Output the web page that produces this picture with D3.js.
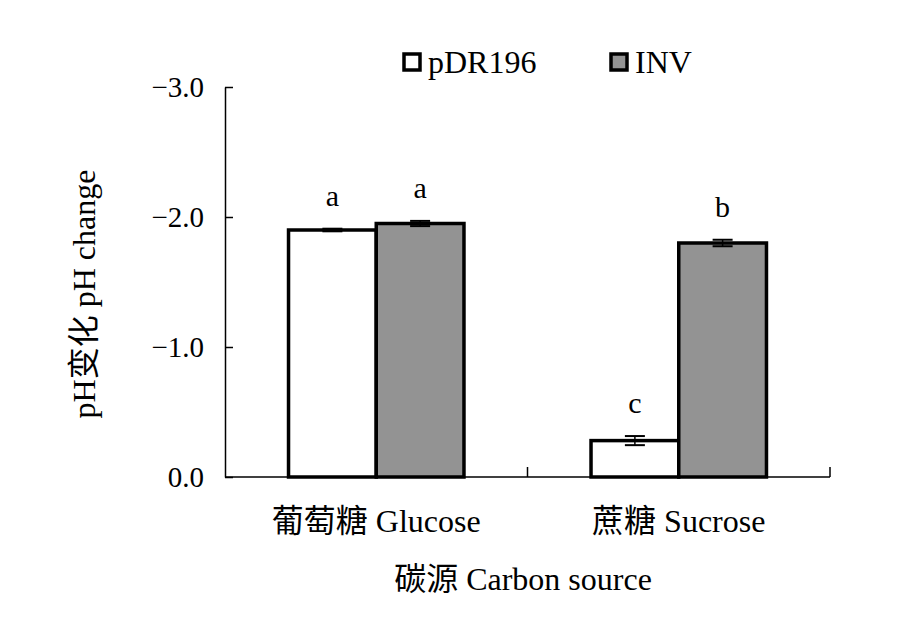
<!DOCTYPE html>
<html><head><meta charset="utf-8">
<script src="https://cdn.jsdelivr.net/npm/d3@7/dist/d3.min.js"></script>
<style>body{margin:0;background:#fff}svg{display:block}</style>
</head><body>
<svg id="c" width="899" height="634"></svg>
<script>
const categories = ["葡萄糖 Glucose", "蔗糖 Sucrose"];
const seriesNames = ["pDR196", "INV"];
const seriesColors = ["#ffffff", "#939393"];
const pDR196 = [-1.90, -0.28];
const INV = [-1.95, -1.80];
const pDR196Err = [0.01, 0.035];
const INVErr = [0.02, 0.025];
const sigLetters = [["a", "c"], ["a", "b"]];
const yTicks = [0, -1, -2, -3];

const serif = "Liberation Serif, Times New Roman, serif";
const cjk = "Liberation Serif, Noto Sans CJK SC, serif";
const svg = d3.select("#c");
const mLeft = 225, mRight = 830, mTop = 87, mBottom = 477;

const y = d3.scaleLinear().domain([0, -3]).range([mBottom, mTop]);
const x0 = d3.scaleBand().domain(categories).range([mLeft, mRight]).paddingInner(0.42).paddingOuter(0.21);
const x1 = d3.scaleBand().domain(seriesNames).range([0, x0.bandwidth()]);

const series = [pDR196, INV];
const errs = [pDR196Err, INVErr];

// y axis
const yAxis = d3.axisLeft(y).tickValues(yTicks).tickSizeInner(-8).tickSizeOuter(0)
  .tickFormat(d => d === 0 ? "0.0" : "\u2212" + Math.abs(d).toFixed(1));
const gy = svg.append("g").attr("transform", `translate(${mLeft},0)`).call(yAxis)
  .attr("font-family", serif).attr("font-size", 29);
gy.select(".domain").attr("stroke", "#000").attr("stroke-width", 1.5);
gy.selectAll(".tick line").attr("stroke", "#000").attr("stroke-width", 1.5);
gy.selectAll(".tick text").attr("x", -21).attr("fill", "#000");

// x axis
svg.append("line").attr("x1", mLeft).attr("x2", mRight).attr("y1", mBottom).attr("y2", mBottom)
  .attr("stroke", "#000").attr("stroke-width", 1.5);
const sepTicks = [mLeft + (mRight - mLeft) / 2, mRight];
svg.selectAll(".sep").data(sepTicks).join("line")
  .attr("x1", d => d).attr("x2", d => d).attr("y1", mBottom).attr("y2", mBottom - 10)
  .attr("stroke", "#000").attr("stroke-width", 1.5);

// bars
seriesNames.forEach((s, si) => {
  const g = svg.append("g");
  categories.forEach((c, ci) => {
    const v = series[si][ci];
    const bx = x0(c) + x1(s);
    g.append("rect").attr("x", bx).attr("y", y(v)).attr("width", x1.bandwidth())
      .attr("height", y(0) - y(v)).attr("fill", seriesColors[si])
      .attr("stroke", "#000").attr("stroke-width", 3.5);
    const cx = bx + x1.bandwidth() / 2;
    const e = errs[si][ci];
    const ew = 10;
    g.append("line").attr("x1", cx).attr("x2", cx).attr("y1", y(v - e)).attr("y2", y(v + e)).attr("stroke", "#000").attr("stroke-width", 1.5);
    [v - e, v + e].forEach(ev => g.append("line").attr("x1", cx - ew).attr("x2", cx + ew).attr("y1", y(ev)).attr("y2", y(ev)).attr("stroke", "#000").attr("stroke-width", 2));
    g.append("text").attr("x", cx).attr("y", y(v - e) - 23).attr("text-anchor", "middle")
      .attr("font-family", serif).attr("font-size", 30).text(sigLetters[si][ci]);
  });
});

// category labels
svg.selectAll(".cat").data(categories).join("text")
  .attr("x", d => x0(d) + x0.bandwidth() / 2).attr("y", 532).attr("text-anchor", "middle")
  .attr("font-family", cjk).attr("font-size", 32).text(d => d);

// axis titles
svg.append("text").attr("x", 523).attr("y", 590).attr("text-anchor", "middle")
  .attr("font-family", cjk).attr("font-size", 32).text("碳源 Carbon source");
svg.append("text").attr("transform", `translate(95,294) rotate(-90)`).attr("text-anchor", "middle")
  .attr("font-family", cjk).attr("font-size", 32).text("pH变化 pH change");

// legend
const legX = [404, 611];
seriesNames.forEach((s, i) => {
  svg.append("rect").attr("x", legX[i]).attr("y", 54).attr("width", 16).attr("height", 16)
    .attr("fill", seriesColors[i]).attr("stroke", "#000").attr("stroke-width", 3.5);
  svg.append("text").attr("x", legX[i] + 24).attr("y", 73).attr("font-family", serif).attr("font-size", 32).text(s);
});
</script>
</body></html>
